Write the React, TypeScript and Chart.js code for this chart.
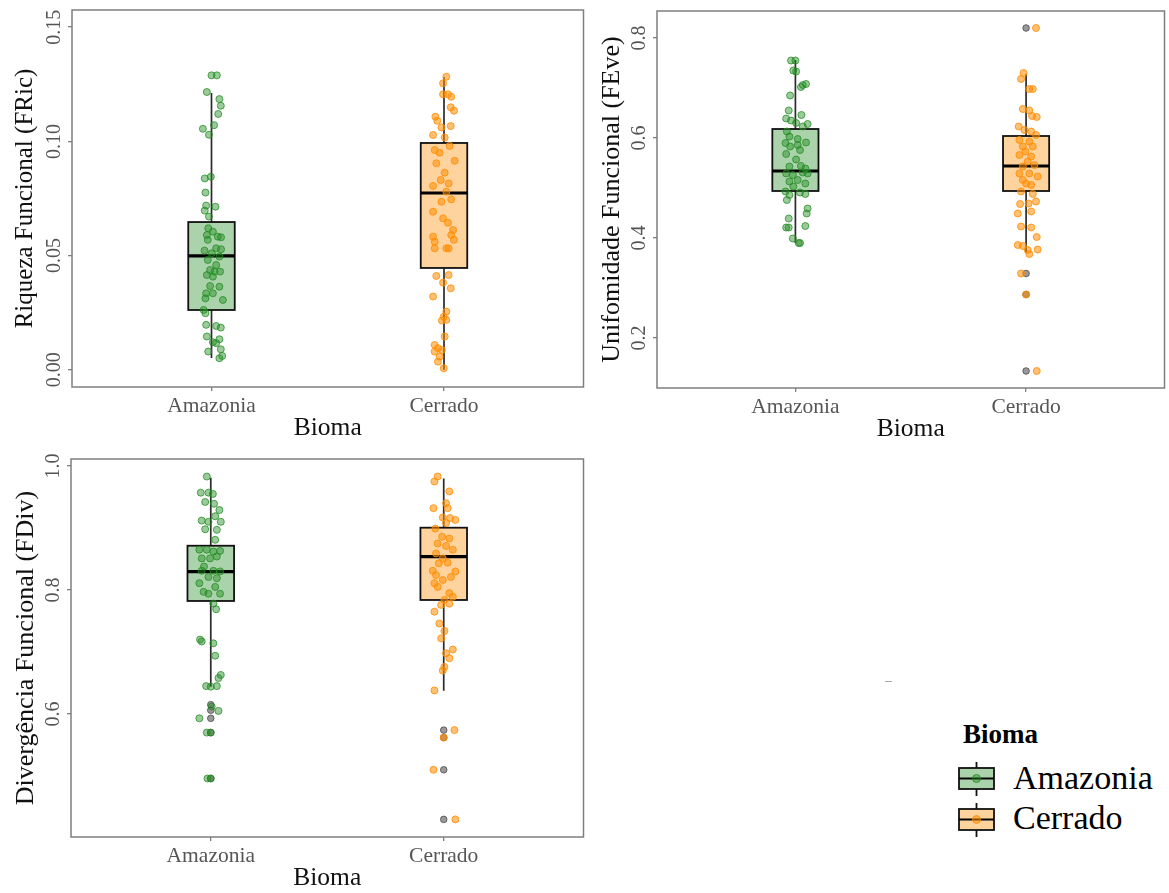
import React, { useEffect, useRef } from 'react';
import { Chart, registerables } from 'chart.js';

Chart.register(...registerables);

const FONT = "'Liberation Serif', 'Times New Roman', serif";

// ---------- data ----------
const categories = ['Amazonia', 'Cerrado'];
const xTitle = 'Bioma';
const legendTitle = 'Bioma';

// Riqueza Funcional (FRic)
const fricTicks = [0, 0.05, 0.1, 0.15];
const fricTickLabels = ['0.00', '0.05', '0.10', '0.15'];
const fricBoxAmaz = [0.0052, 0.0262, 0.0499, 0.0647, 0.1212];
const fricBoxCerr = [0.0, 0.0446, 0.0774, 0.0993, 0.1282];
const fricAmaz = [0.1289, 0.1289, 0.1216, 0.1185, 0.1156, 0.112, 0.1055, 0.1071, 0.1029, 0.0838, 0.0845, 0.0776, 0.0719, 0.0714, 0.0697, 0.0671, 0.062, 0.0605, 0.059, 0.0583, 0.058, 0.0569, 0.0532, 0.0528, 0.0522, 0.051, 0.0496, 0.0481, 0.0459, 0.0437, 0.043, 0.043, 0.0415, 0.0408, 0.0364, 0.0367, 0.0335, 0.0313, 0.0335, 0.0306, 0.0262, 0.0248, 0.0197, 0.0192, 0.0185, 0.0146, 0.0134, 0.0121, 0.0117, 0.008, 0.009, 0.0061, 0.0051];
const fricAmazJit = [0, 0.023, -0.02, 0.034, 0.04, 0.029, -0.037, 0.011, -0.011, -0.029, -0.003, -0.026, -0.023, 0.017, -0.029, -0.011, -0.014, 0.006, -0.02, 0.027, 0.041, -0.016, 0.02, 0.041, -0.03, 0.001, 0.034, -0.016, 0.02, -0.006, 0.013, 0.037, -0.02, 0.006, 0.034, -0.006, -0.023, -0.026, 0.006, 0.049, -0.034, -0.026, -0.023, 0.02, 0.04, -0.02, 0.034, 0.006, 0.02, -0.014, 0.04, 0.046, 0.034];
const fricAmazOut: number[] = [];
const fricCerr = [0.1283, 0.1254, 0.1206, 0.1206, 0.1195, 0.1149, 0.1134, 0.1108, 0.109, 0.1061, 0.1067, 0.1028, 0.1017, 0.098, 0.0962, 0.095, 0.0904, 0.0915, 0.0863, 0.0831, 0.0816, 0.0805, 0.078, 0.0746, 0.0736, 0.0692, 0.0663, 0.0644, 0.0612, 0.059, 0.0583, 0.0561, 0.0569, 0.0532, 0.0532, 0.0532, 0.0411, 0.0415, 0.0382, 0.0357, 0.0321, 0.0255, 0.0233, 0.0216, 0.0219, 0.0146, 0.0109, 0.0095, 0.0087, 0.008, 0.0058, 0.0036, 0.0007];
const fricCerrJit = [0.01, -0.004, -0.004, 0.017, 0.031, 0.029, 0.043, -0.037, -0.029, -0.011, 0.029, -0.047, 0.003, 0.024, -0.04, -0.019, -0.033, 0.046, 0.003, -0.014, 0.02, -0.047, 0.01, 0.031, -0.011, -0.047, -0.004, 0.017, 0.039, 0.031, -0.047, -0.04, 0.043, -0.04, 0.01, 0.02, -0.033, 0.02, -0.004, 0.029, -0.047, 0.01, -0.001, -0.009, 0.01, 0.003, -0.04, -0.026, -0.009, -0.04, -0.019, -0.026, -0.001];
const fricCerrOut: number[] = [];

// Unifomidade Funcional (FEve)
const feveTicks = [0.2, 0.4, 0.6, 0.8];
const feveTickLabels = ['0.2', '0.4', '0.6', '0.8'];
const feveBoxAmaz = [0.39, 0.494, 0.534, 0.618, 0.756];
const feveBoxCerr = [0.37, 0.494, 0.544, 0.604, 0.728];
const feveAmaz = [0.755, 0.755, 0.735, 0.733, 0.706, 0.708, 0.702, 0.685, 0.655, 0.646, 0.639, 0.635, 0.63, 0.628, 0.623, 0.613, 0.603, 0.598, 0.59, 0.591, 0.586, 0.583, 0.576, 0.568, 0.557, 0.543, 0.544, 0.539, 0.529, 0.526, 0.531, 0.529, 0.516, 0.513, 0.509, 0.503, 0.493, 0.491, 0.486, 0.488, 0.476, 0.459, 0.449, 0.439, 0.421, 0.421, 0.424, 0.399, 0.39, 0.39];
const feveAmazJit = [-0.019, 0, -0.009, 0.003, 0.032, 0.046, 0.024, -0.023, -0.029, 0.026, -0.04, -0.019, 0.003, 0.053, 0.032, -0.037, -0.026, 0.01, -0.043, 0.046, 0.01, -0.023, 0.02, -0.04, 0.003, -0.026, 0.024, 0.043, -0.04, -0.011, 0.032, 0.053, 0.01, -0.026, 0.043, -0.009, -0.043, 0.02, -0.026, 0.043, -0.037, 0.053, 0.049, -0.029, -0.04, -0.029, 0.043, -0.011, 0.014, 0.02];
const feveAmazOut: number[] = [];
const feveCerr = [0.82, 0.73, 0.718, 0.698, 0.698, 0.658, 0.655, 0.644, 0.642, 0.623, 0.616, 0.613, 0.606, 0.596, 0.593, 0.583, 0.583, 0.573, 0.566, 0.563, 0.553, 0.543, 0.546, 0.529, 0.529, 0.523, 0.516, 0.509, 0.506, 0.493, 0.488, 0.468, 0.473, 0.469, 0.449, 0.453, 0.423, 0.421, 0.402, 0.386, 0.384, 0.368, 0.377, 0.376, 0.329, 0.287, 0.134];
const feveCerrJit = [0.043, -0.011, -0.022, 0.014, 0.029, -0.014, 0.014, 0.026, 0.046, -0.032, -0.007, 0.022, 0.043, -0.029, 0.014, -0.014, 0.029, -0.003, -0.029, 0.022, 0.007, -0.014, 0.036, -0.029, 0.014, 0.05, -0.014, 0, 0.022, -0.022, 0.029, -0.026, 0.043, 0.011, -0.036, 0.022, -0.022, 0.022, 0.046, -0.036, -0.014, 0.014, 0.05, 0.007, -0.022, 0, 0.046];
const feveCerrOut = [0.82, 0.329, 0.287, 0.134];

// Divergência Funcional (FDiv)
const fdivTicks = [0.6, 0.8, 1.0];
const fdivTickLabels = ['0.6', '0.8', '1.0'];
const fdivBoxAmaz = [0.644, 0.7823, 0.8295, 0.8714, 0.981];
const fdivBoxCerr = [0.6376, 0.7839, 0.8537, 0.9005, 0.98];
const fdivAmaz = [0.983, 0.957, 0.957, 0.955, 0.942, 0.939, 0.929, 0.919, 0.912, 0.91, 0.91, 0.898, 0.897, 0.881, 0.865, 0.865, 0.862, 0.863, 0.851, 0.851, 0.854, 0.838, 0.831, 0.831, 0.83, 0.821, 0.819, 0.811, 0.805, 0.797, 0.794, 0.794, 0.778, 0.769, 0.72, 0.717, 0.714, 0.694, 0.663, 0.658, 0.645, 0.644, 0.645, 0.612, 0.605, 0.593, 0.57, 0.57, 0.496, 0.496];
const fdivAmazJit = [-0.017, -0.043, -0.01, 0.009, -0.024, 0.014, 0.037, 0.019, -0.039, -0.01, 0.043, -0.024, 0.026, 0.019, -0.049, -0.017, 0.011, 0.04, -0.039, -0.003, 0.026, -0.029, -0.039, 0.011, 0.04, -0.01, 0.026, -0.049, 0.019, -0.031, -0.01, 0.04, 0.011, 0.023, -0.046, -0.039, 0.011, 0.019, 0.043, 0.033, -0.02, 0, 0.026, 0.004, 0.033, -0.049, -0.017, 0, -0.014, 0];
const fdivAmazOut = [0.615, 0.606, 0.593, 0.57, 0.496];
const fdivCerr = [0.983, 0.975, 0.959, 0.94, 0.932, 0.932, 0.917, 0.916, 0.913, 0.908, 0.899, 0.886, 0.883, 0.875, 0.871, 0.865, 0.859, 0.851, 0.843, 0.844, 0.831, 0.83, 0.824, 0.821, 0.816, 0.811, 0.805, 0.795, 0.789, 0.784, 0.776, 0.778, 0.765, 0.746, 0.734, 0.722, 0.704, 0.698, 0.69, 0.676, 0.67, 0.638, 0.574, 0.562, 0.51, 0.43];
const fdivCerrJit = [-0.026, -0.04, 0.024, 0.01, -0.044, 0.017, -0.004, 0.027, 0.05, 0.01, -0.036, -0.007, 0.024, -0.026, 0.01, 0.039, -0.033, -0.004, -0.021, 0.017, -0.047, 0.05, -0.033, 0.031, -0.004, -0.04, -0.026, 0.024, 0.039, 0.003, -0.011, 0.024, -0.04, -0.019, 0.003, -0.011, 0.039, 0.01, 0.024, 0.003, -0.004, -0.04, 0.046, 0, -0.044, 0.05];
const fdivCerrOut = [0.574, 0.562, 0.51, 0.43];

// ---------- styles ----------
const PT_FILL = ['rgba(34,139,34,0.45)', 'rgba(255,140,0,0.55)'];
const PT_LINE = ['rgba(34,139,34,0.75)', 'rgba(255,140,0,0.8)'];
const BOX_FILL = ['rgba(34,139,34,0.38)', 'rgba(255,140,0,0.38)'];
const OUT_FILL = 'rgba(70,70,70,0.55)';
const OUT_LINE = 'rgba(70,70,70,0.75)';
const AXIS_GREY = '#7f7f7f';
const TICK_TEXT = '#555555';
const TITLE_TEXT = '#111111';

type Group = { values: number[]; jitter: number[]; outliers: number[]; box: number[] };
type Spec = {
  left: number; top: number; width: number; height: number;
  padTop: number; padRight: number; yAxisW: number; xAxisH: number;
  yMin: number; yMax: number; yTicks: number[]; yTickLabels: string[];
  yTitle: string; yTitleSize: number; yTitleOff: number; yTickOff: number;
  groups: Group[];
};

const panels: Spec[] = [
  {
    left: 0, top: 0, width: 588, height: 445, padTop: 10, padRight: 2, yAxisW: 72, xAxisH: 58,
    yMin: -0.0075, yMax: 0.1575, yTicks: fricTicks, yTickLabels: fricTickLabels,
    yTitle: 'Riqueza Funcional (FRic)', yTitleSize: 25, yTitleOff: 47, yTickOff: 17,
    groups: [
      { values: fricAmaz, jitter: fricAmazJit, outliers: fricAmazOut, box: fricBoxAmaz },
      { values: fricCerr, jitter: fricCerrJit, outliers: fricCerrOut, box: fricBoxCerr },
    ],
  },
  {
    left: 585, top: 0, width: 584, height: 445, padTop: 11, padRight: 1, yAxisW: 72, xAxisH: 57,
    yMin: 0.1, yMax: 0.854, yTicks: feveTicks, yTickLabels: feveTickLabels,
    yTitle: 'Unifomidade Funcional (FEve)', yTitleSize: 26, yTitleOff: 45, yTickOff: 17,
    groups: [
      { values: feveAmaz, jitter: feveAmazJit, outliers: feveAmazOut, box: feveBoxAmaz },
      { values: feveCerr, jitter: feveCerrJit, outliers: feveCerrOut, box: feveBoxCerr },
    ],
  },
  {
    left: 0, top: 445, width: 588, height: 448, padTop: 14, padRight: 3, yAxisW: 71, xAxisH: 56,
    yMin: 0.4016, yMax: 1.0113, yTicks: fdivTicks, yTickLabels: fdivTickLabels,
    yTitle: 'Divergência Funcional (FDiv)', yTitleSize: 26, yTitleOff: 45, yTickOff: 17,
    groups: [
      { values: fdivAmaz, jitter: fdivAmazJit, outliers: fdivAmazOut, box: fdivBoxAmaz },
      { values: fdivCerr, jitter: fdivCerrJit, outliers: fdivCerrOut, box: fdivBoxCerr },
    ],
  },
];

function Panel({ spec }: { spec: Spec }) {
  const ref = useRef<HTMLCanvasElement>(null);
  useEffect(() => {
    const canvas = ref.current;
    if (!canvas) return;
    const s = spec;
    const datasets: any[] = [];
    s.groups.forEach((g, i) => {
      datasets.push({
        label: categories[i],
        data: g.values.map((v, k) => ({ x: i + 1 + g.jitter[k], y: v })),
        backgroundColor: PT_FILL[i],
        borderColor: PT_LINE[i],
        borderWidth: 1,
        pointRadius: 3.5,
        pointHoverRadius: 3.5,
      });
    });
    s.groups.forEach((g, i) => {
      datasets.push({
        label: categories[i] + ' outliers',
        data: g.outliers.map((v) => ({ x: i + 1, y: v })),
        backgroundColor: OUT_FILL,
        borderColor: OUT_LINE,
        borderWidth: 1,
        pointRadius: 3.3,
        pointHoverRadius: 3.3,
      });
    });

    const boxPlugin = {
      id: 'boxes',
      beforeDatasetsDraw(chart: any) {
        const { ctx } = chart;
        const xs = chart.scales.x;
        const ys = chart.scales.y;
        s.groups.forEach((g, i) => {
          const c = i + 1;
          const x0 = xs.getPixelForValue(c - 0.1);
          const x1 = xs.getPixelForValue(c + 0.1);
          const xc = xs.getPixelForValue(c);
          const [lo, q1, med, q3, hi] = g.box;
          const yLo = ys.getPixelForValue(lo);
          const yQ1 = ys.getPixelForValue(q1);
          const yMed = ys.getPixelForValue(med);
          const yQ3 = ys.getPixelForValue(q3);
          const yHi = ys.getPixelForValue(hi);
          ctx.save();
          ctx.strokeStyle = '#2b2b2b';
          ctx.lineWidth = 1.7;
          ctx.beginPath();
          ctx.moveTo(xc, yLo);
          ctx.lineTo(xc, yQ1);
          ctx.moveTo(xc, yQ3);
          ctx.lineTo(xc, yHi);
          ctx.stroke();
          ctx.fillStyle = BOX_FILL[i];
          ctx.fillRect(x0, yQ3, x1 - x0, yQ1 - yQ3);
          ctx.strokeStyle = '#111111';
          ctx.lineWidth = 1.8;
          ctx.strokeRect(x0, yQ3, x1 - x0, yQ1 - yQ3);
          ctx.lineWidth = 3.2;
          ctx.strokeStyle = '#000000';
          ctx.beginPath();
          ctx.moveTo(x0, yMed);
          ctx.lineTo(x1, yMed);
          ctx.stroke();
          ctx.restore();
        });
      },
    };

    const decorPlugin = {
      id: 'decor',
      afterDraw(chart: any) {
        const { ctx, chartArea } = chart;
        const { left, right, top, bottom } = chartArea;
        const xs = chart.scales.x;
        const ys = chart.scales.y;
        ctx.save();
        ctx.strokeStyle = AXIS_GREY;
        ctx.lineWidth = 1.5;
        ctx.strokeRect(left, top, right - left, bottom - top);

        // y tick labels (rotated)
        ctx.fillStyle = TICK_TEXT;
        ctx.font = `20px ${FONT}`;
        ctx.textAlign = 'center';
        ctx.textBaseline = 'middle';
        s.yTicks.forEach((v, k) => {
          const y = ys.getPixelForValue(v);
          ctx.save();
          ctx.translate(left - s.yTickOff, y);
          ctx.rotate(-Math.PI / 2);
          ctx.fillText(s.yTickLabels[k], 0, 0);
          ctx.restore();
        });

        // x tick labels
        ctx.font = `21.5px ${FONT}`;
        ctx.textBaseline = 'alphabetic';
        categories.forEach((c, i) => {
          ctx.fillText(c, xs.getPixelForValue(i + 1), bottom + 24.5);
        });

        // x title
        ctx.fillStyle = TITLE_TEXT;
        ctx.font = `25.5px ${FONT}`;
        ctx.fillText(xTitle, (left + right) / 2, bottom + 48);

        // y title
        ctx.font = `${s.yTitleSize}px ${FONT}`;
        ctx.textBaseline = 'middle';
        ctx.save();
        ctx.translate(left - s.yTitleOff, (top + bottom) / 2);
        ctx.rotate(-Math.PI / 2);
        ctx.fillText(s.yTitle, 0, 0);
        ctx.restore();
        ctx.restore();
      },
    };

    const gridOpts = {
      drawOnChartArea: false,
      drawTicks: true,
      tickLength: 4,
      color: AXIS_GREY,
      lineWidth: 1.3,
    };

    const chart = new Chart(canvas, {
      type: 'scatter',
      data: { datasets },
      options: {
        animation: false,
        responsive: false,
        devicePixelRatio: 1,
        layout: { padding: { top: s.padTop, right: s.padRight, left: 0, bottom: 0 } },
        plugins: { legend: { display: false }, tooltip: { enabled: false } },
        scales: {
          x: {
            type: 'linear',
            min: 0.4,
            max: 2.6,
            afterBuildTicks: (sc: any) => {
              sc.ticks = categories.map((_, i) => ({ value: i + 1 }));
            },
            afterFit: (sc: any) => {
              sc.height = s.xAxisH;
            },
            ticks: { display: false },
            grid: gridOpts,
            border: { display: false },
          },
          y: {
            type: 'linear',
            min: s.yMin,
            max: s.yMax,
            afterBuildTicks: (sc: any) => {
              sc.ticks = s.yTicks.map((v) => ({ value: v }));
            },
            afterFit: (sc: any) => {
              sc.width = s.yAxisW;
            },
            ticks: { display: false },
            grid: gridOpts,
            border: { display: false },
          },
        },
      } as any,
      plugins: [boxPlugin, decorPlugin],
    });
    return () => chart.destroy();
  }, [spec]);
  return (
    <canvas
      ref={ref}
      width={spec.width}
      height={spec.height}
      style={{ position: 'absolute', left: spec.left, top: spec.top, width: spec.width, height: spec.height }}
    />
  );
}

function LegendKey({ top, i }: { top: number; i: number }) {
  return (
    <svg width={45} height={40} style={{ position: 'absolute', left: 955, top }}>
      <line x1={21.5} y1={2} x2={21.5} y2={36} stroke="#111" strokeWidth={1.8} />
      <rect x={4} y={8} width={35} height={21} fill="#fff" />
      <rect x={4} y={8} width={35} height={21} fill={BOX_FILL[i]} stroke="#111" strokeWidth={1.8} />
      <line x1={4} y1={18.5} x2={39} y2={18.5} stroke="#000" strokeWidth={2.2} />
      <circle cx={21.5} cy={18.5} r={4} fill={PT_FILL[i]} stroke={PT_LINE[i]} strokeWidth={1} />
    </svg>
  );
}

export default function App() {
  return (
    <div
      style={{
        position: 'absolute',
        left: 0,
        top: 0,
        width: 1169,
        height: 893,
        background: '#ffffff',
        overflow: 'hidden',
        fontFamily: FONT,
      }}
    >
      {panels.map((p, k) => (
        <Panel key={k} spec={p} />
      ))}
      <div
        style={{
          position: 'absolute', left: 963, top: 721, fontSize: 27, lineHeight: '27px',
          fontWeight: 'bold', color: '#000', whiteSpace: 'nowrap',
        }}
      >
        {legendTitle}
      </div>
      <LegendKey top={760} i={0} />
      <LegendKey top={801} i={1} />
      <div
        style={{
          position: 'absolute', left: 1013, top: 761, fontSize: 34, lineHeight: '34px',
          color: '#000', whiteSpace: 'nowrap',
        }}
      >
        {categories[0]}
      </div>
      <div
        style={{
          position: 'absolute', left: 1013, top: 801, fontSize: 34, lineHeight: '34px',
          color: '#000', whiteSpace: 'nowrap',
        }}
      >
        {categories[1]}
      </div>
      <div style={{ position: 'absolute', left: 885, top: 681, width: 7, height: 1, background: '#aaa' }} />
    </div>
  );
}
